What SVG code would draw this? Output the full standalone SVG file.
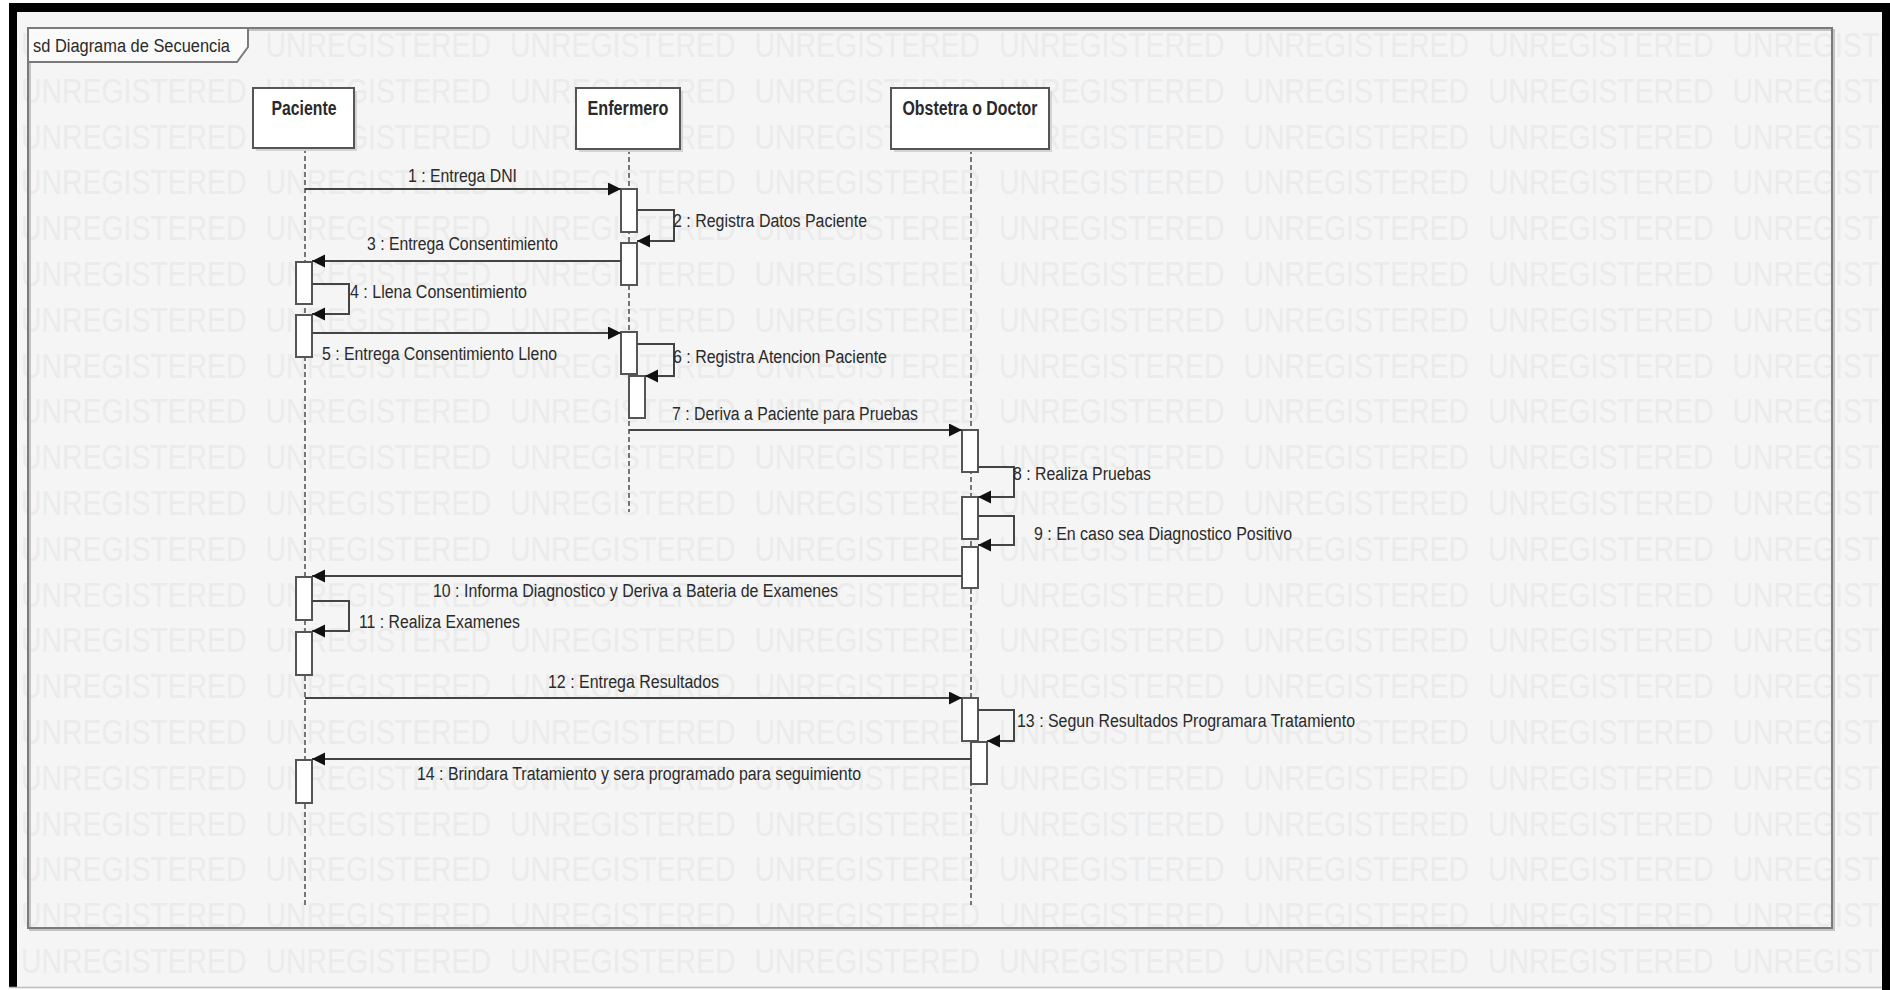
<svg xmlns="http://www.w3.org/2000/svg" xmlns:xlink="http://www.w3.org/1999/xlink" width="1890" height="990" viewBox="0 0 1890 990">
<style>
.wm{font-family:"Liberation Sans",Arial,sans-serif;font-size:35px;fill:#ebebeb}
.frame{fill:none;stroke:#7a7a7a;stroke-width:2}
.shadow{fill:none;stroke:#c4c4c4;stroke-width:2}
.head{fill:#ffffff;stroke:#555555;stroke-width:2}
.hshadow{fill:#d4d4d4}
.htxt{font-family:"Liberation Sans",Arial,sans-serif;font-size:20px;font-weight:bold;fill:#2a2a2a;text-anchor:middle}
.life{stroke:#333333;stroke-width:1.3;stroke-dasharray:5 3;fill:none}
.act{fill:#ffffff;stroke:#555555;stroke-width:2}
.msg{stroke:#444444;stroke-width:2;fill:none;marker-end:url(#arr)}
.lbl{font-family:"Liberation Sans",Arial,sans-serif;font-size:18px;fill:#2a2a2a}
</style>
<defs>
<marker id="arr" markerUnits="userSpaceOnUse" markerWidth="14" markerHeight="14" refX="13" refY="6.5" orient="auto">
<path d="M0,0 L13,6.5 L0,13 Z" fill="#111111"/>
</marker>
<g id="wmrow">
<text class="wm" transform="scale(0.811 1)"><tspan x="25.9">UNREGISTERED</tspan><tspan x="327.4">UNREGISTERED</tspan><tspan x="628.9">UNREGISTERED</tspan><tspan x="930.3">UNREGISTERED</tspan><tspan x="1231.8">UNREGISTERED</tspan><tspan x="1533.3">UNREGISTERED</tspan><tspan x="1834.8">UNREGISTERED</tspan><tspan x="2136.3">UNREGISTERED</tspan></text>
</g>
</defs>

<rect x="0" y="0" width="1890" height="990" fill="#ffffff"/>
<rect x="9" y="4" width="1881" height="983" fill="#f5f5f5"/>

<g id="watermark">
<use xlink:href="#wmrow" y="57"/>
<use xlink:href="#wmrow" y="102.8"/>
<use xlink:href="#wmrow" y="148.6"/>
<use xlink:href="#wmrow" y="194.4"/>
<use xlink:href="#wmrow" y="240.2"/>
<use xlink:href="#wmrow" y="286"/>
<use xlink:href="#wmrow" y="331.8"/>
<use xlink:href="#wmrow" y="377.6"/>
<use xlink:href="#wmrow" y="423.4"/>
<use xlink:href="#wmrow" y="469.2"/>
<use xlink:href="#wmrow" y="515"/>
<use xlink:href="#wmrow" y="560.8"/>
<use xlink:href="#wmrow" y="606.6"/>
<use xlink:href="#wmrow" y="652.4"/>
<use xlink:href="#wmrow" y="698.2"/>
<use xlink:href="#wmrow" y="744"/>
<use xlink:href="#wmrow" y="789.8"/>
<use xlink:href="#wmrow" y="835.6"/>
<use xlink:href="#wmrow" y="881.4"/>
<use xlink:href="#wmrow" y="927.2"/>
<use xlink:href="#wmrow" y="973"/>
</g>

<g id="border">
<rect x="9" y="3" width="1881" height="9" fill="#000000"/>
<rect x="9" y="3" width="8" height="984" fill="#000000"/>
<rect x="1882" y="3" width="8" height="987" fill="#000000"/>
<line x1="9" y1="987.5" x2="1882" y2="987.5" stroke="#bdbdbd" stroke-width="1.5"/>
</g>

<g id="frame">
<rect class="shadow" x="30" y="30" width="1804" height="900"/>
<rect class="frame" x="28" y="28" width="1804" height="900"/>
<polygon points="28,28 248,28 248,47 237,62 28,62" fill="#fafafa" stroke="#7a7a7a" stroke-width="2"/>
<text class="lbl" x="33" y="52" textLength="197" lengthAdjust="spacingAndGlyphs">sd Diagrama de Secuencia</text>
</g>

<g id="lifelines">
<line class="life" x1="305" y1="148" x2="305" y2="905"/>
<line class="life" x1="629" y1="149" x2="629" y2="512"/>
<line class="life" x1="971" y1="149" x2="971" y2="905"/>
</g>

<g id="paciente">
<rect class="hshadow" x="256" y="91" width="101" height="60"/>
<rect class="head" x="253" y="88" width="101" height="60"/>
<text class="htxt" x="304" y="115" textLength="65" lengthAdjust="spacingAndGlyphs">Paciente</text>
</g>
<g id="enfermero">
<rect class="hshadow" x="579" y="91" width="104" height="61"/>
<rect class="head" x="576" y="88" width="104" height="61"/>
<text class="htxt" x="628" y="115" textLength="81" lengthAdjust="spacingAndGlyphs">Enfermero</text>
</g>
<g id="obstetra">
<rect class="hshadow" x="894" y="91" width="158" height="61"/>
<rect class="head" x="891" y="88" width="158" height="61"/>
<text class="htxt" x="970" y="115" textLength="135" lengthAdjust="spacingAndGlyphs">Obstetra o Doctor</text>
</g>

<g id="activations">
<rect class="act" x="621" y="189" width="16" height="43"/>
<rect class="act" x="621" y="243" width="16" height="42"/>
<rect class="act" x="621" y="332" width="16" height="42"/>
<rect class="act" x="629" y="376" width="16" height="42"/>
<rect class="act" x="296" y="262" width="16" height="42"/>
<rect class="act" x="296" y="315" width="16" height="42"/>
<rect class="act" x="296" y="577" width="16" height="43"/>
<rect class="act" x="296" y="632" width="16" height="43"/>
<rect class="act" x="296" y="760" width="16" height="43"/>
<rect class="act" x="962" y="430" width="16" height="42"/>
<rect class="act" x="962" y="497" width="16" height="42"/>
<rect class="act" x="962" y="547" width="16" height="41"/>
<rect class="act" x="962" y="698" width="16" height="43"/>
<rect class="act" x="971" y="742" width="16" height="42"/>
</g>

<g id="connectors">
<line class="msg" x1="305" y1="189" x2="621" y2="189"/>
<path class="msg" d="M637,210 H674 V241 H637"/>
<line class="msg" x1="621" y1="261" x2="312" y2="261"/>
<path class="msg" d="M312,284 H349 V314 H312"/>
<line class="msg" x1="312" y1="333" x2="621" y2="333"/>
<path class="msg" d="M637,344 H674 V376 H645"/>
<line class="msg" x1="629" y1="430" x2="962" y2="430"/>
<path class="msg" d="M978,467 H1014 V497 H978"/>
<path class="msg" d="M978,516 H1014 V545 H978"/>
<line class="msg" x1="962" y1="576" x2="312" y2="576"/>
<path class="msg" d="M312,601 H349 V631 H312"/>
<line class="msg" x1="305" y1="698" x2="962" y2="698"/>
<path class="msg" d="M978,710 H1014 V741 H987"/>
<line class="msg" x1="971" y1="759" x2="312" y2="759"/>
</g>

<g id="labels">
<text class="lbl" x="408" y="182" textLength="109" lengthAdjust="spacingAndGlyphs">1 : Entrega DNI</text>
<text class="lbl" x="673" y="227" textLength="194" lengthAdjust="spacingAndGlyphs">2 : Registra Datos Paciente</text>
<text class="lbl" x="367" y="250" textLength="191" lengthAdjust="spacingAndGlyphs">3 : Entrega Consentimiento</text>
<text class="lbl" x="350" y="298" textLength="177" lengthAdjust="spacingAndGlyphs">4 : Llena Consentimiento</text>
<text class="lbl" x="322" y="360" textLength="235" lengthAdjust="spacingAndGlyphs">5 : Entrega Consentimiento Lleno</text>
<text class="lbl" x="673" y="363" textLength="214" lengthAdjust="spacingAndGlyphs">6 : Registra Atencion Paciente</text>
<text class="lbl" x="672" y="420" textLength="246" lengthAdjust="spacingAndGlyphs">7 : Deriva a Paciente para Pruebas</text>
<text class="lbl" x="1013" y="480" textLength="138" lengthAdjust="spacingAndGlyphs">8 : Realiza Pruebas</text>
<text class="lbl" x="1034" y="540" textLength="258" lengthAdjust="spacingAndGlyphs">9 : En caso sea Diagnostico Positivo</text>
<text class="lbl" x="433" y="597" textLength="405" lengthAdjust="spacingAndGlyphs">10 : Informa Diagnostico y Deriva a Bateria de Examenes</text>
<text class="lbl" x="359" y="628" textLength="161" lengthAdjust="spacingAndGlyphs">11 : Realiza Examenes</text>
<text class="lbl" x="548" y="688" textLength="171" lengthAdjust="spacingAndGlyphs">12 : Entrega Resultados</text>
<text class="lbl" x="1017" y="727" textLength="338" lengthAdjust="spacingAndGlyphs">13 : Segun Resultados Programara Tratamiento</text>
<text class="lbl" x="417" y="780" textLength="444" lengthAdjust="spacingAndGlyphs">14 : Brindara Tratamiento y sera programado para seguimiento</text>
</g>
</svg>
